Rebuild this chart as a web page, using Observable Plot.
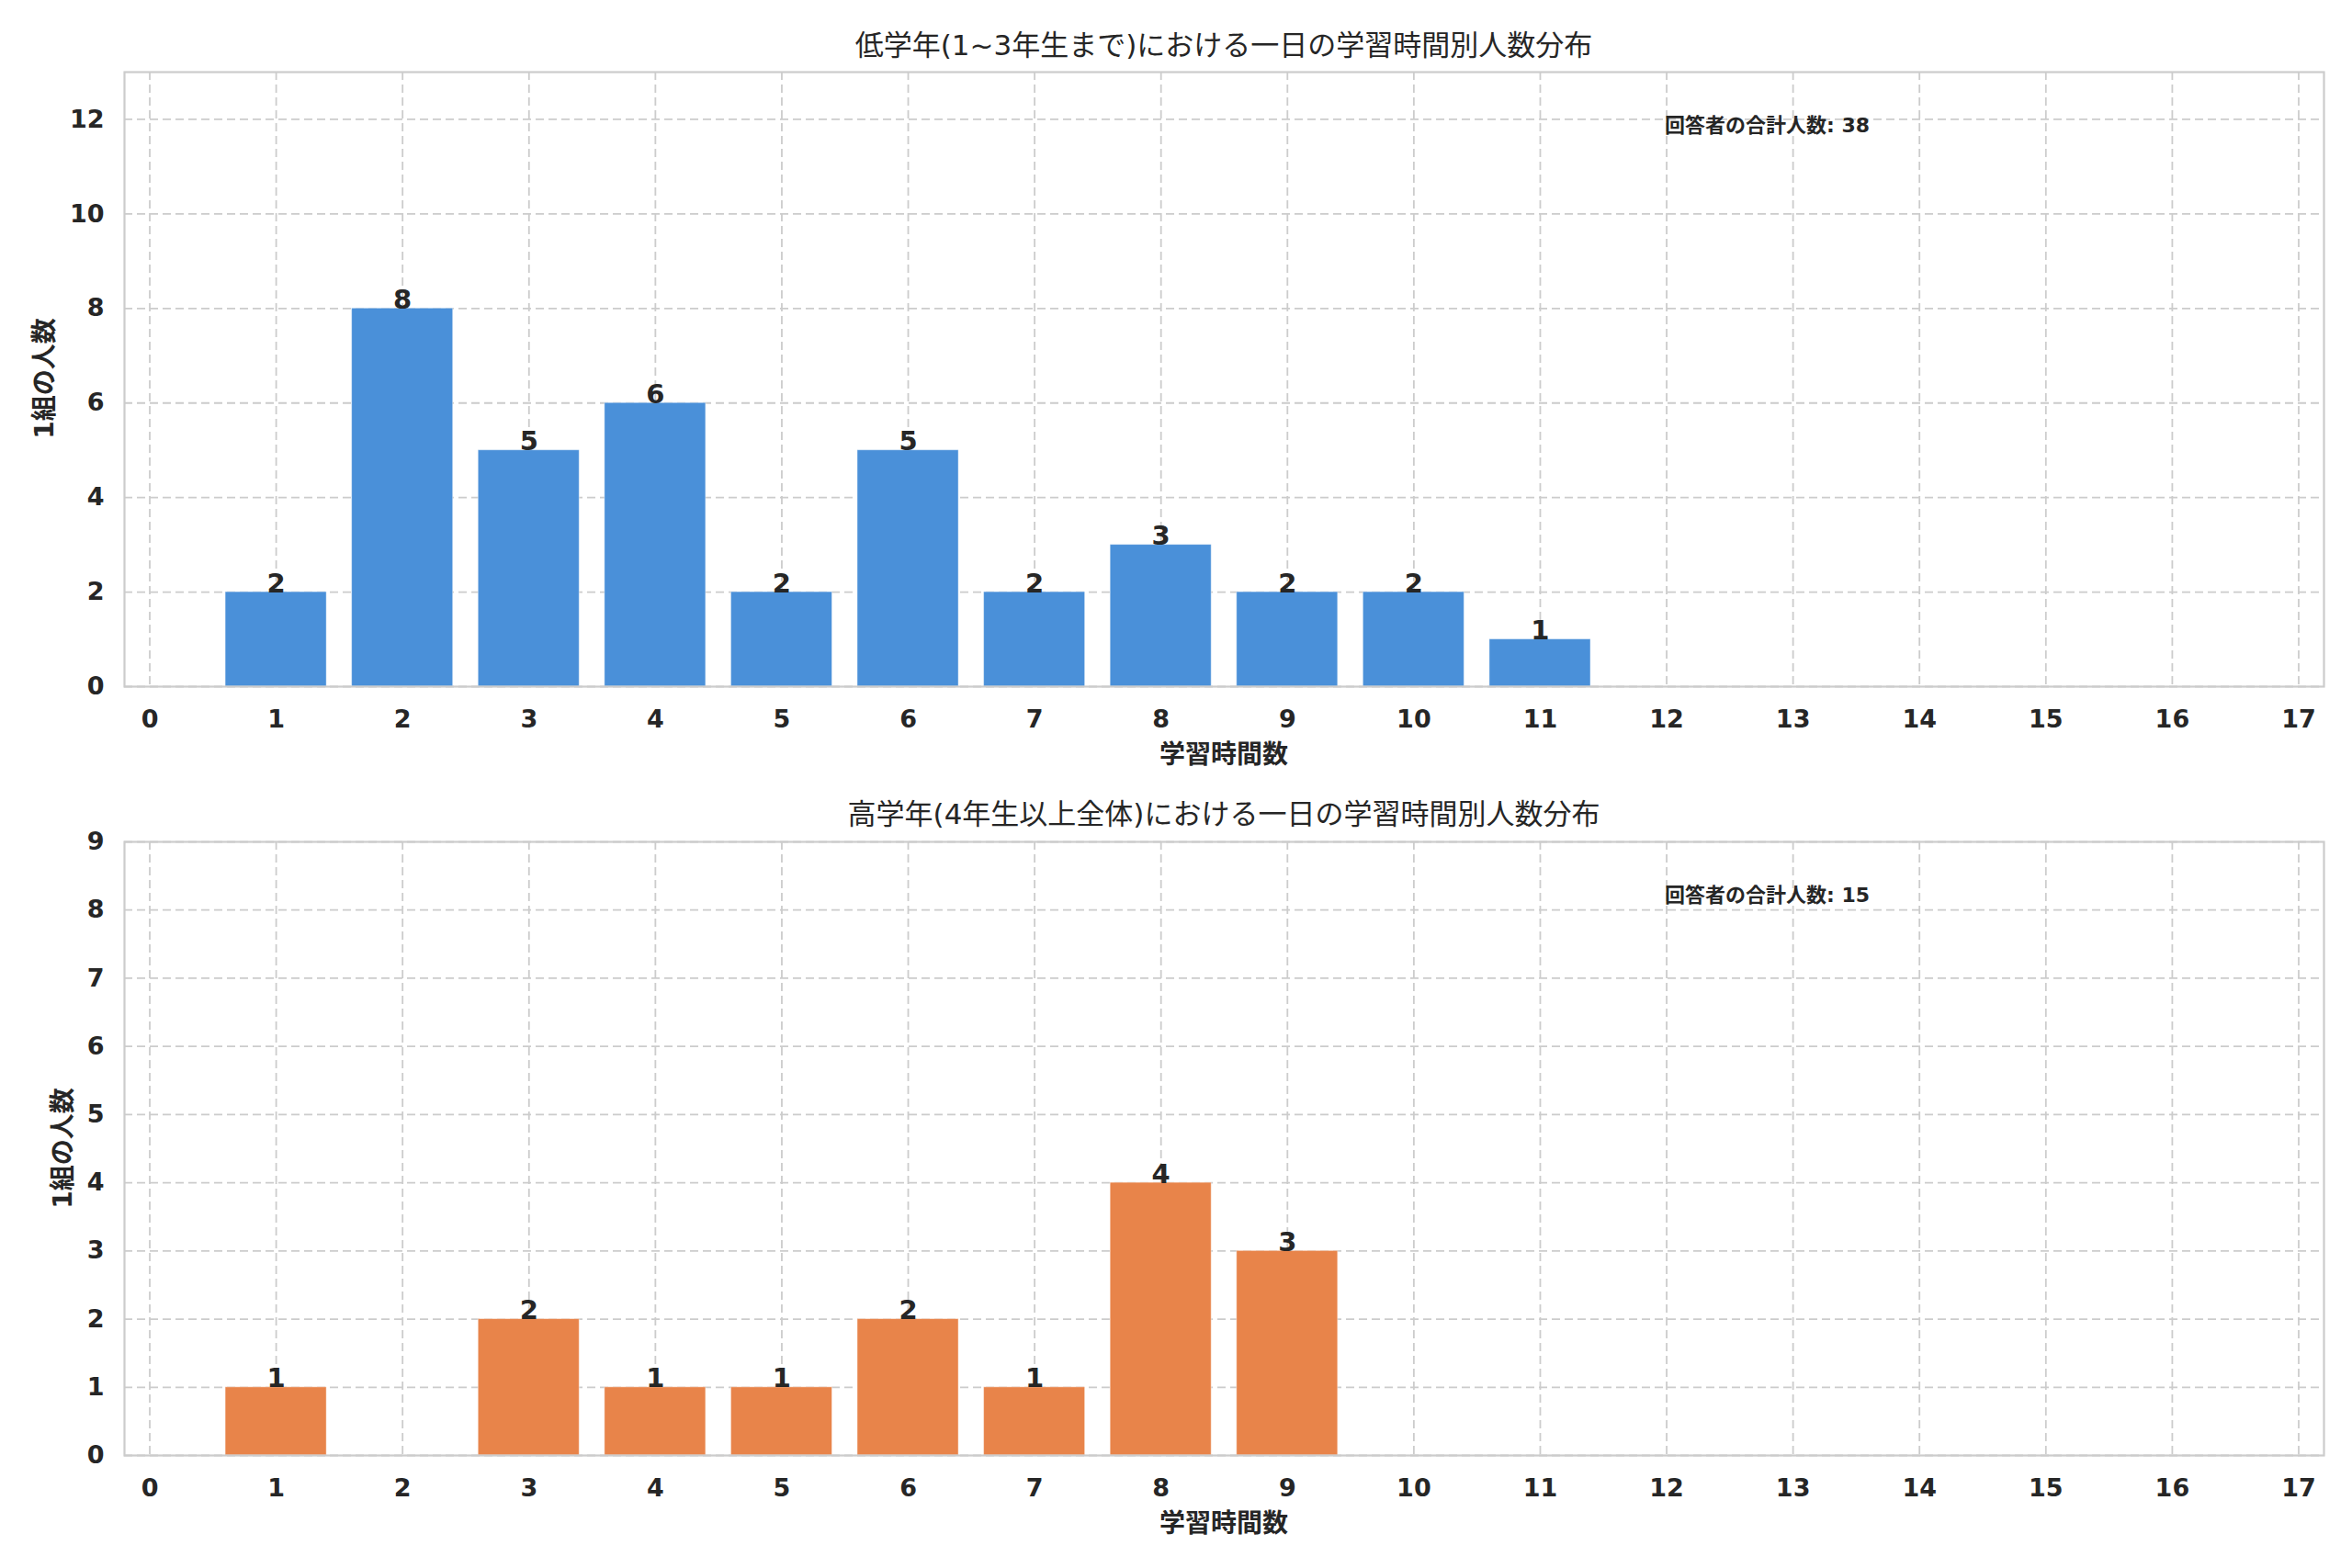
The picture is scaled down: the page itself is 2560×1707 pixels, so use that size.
<!DOCTYPE html>
<html>
<head>
<meta charset="utf-8">
<script src="https://cdn.jsdelivr.net/npm/d3@7"></script>
<script src="https://cdn.jsdelivr.net/npm/@observablehq/plot@0.6"></script>
<style>
  html, body { margin: 0; padding: 0; background: #ffffff; }
  #chart { position: relative; width: 2560px; height: 1707px; background: #ffffff;
           font-family: "DejaVu Sans", "Noto Sans CJK JP", sans-serif; color: #262626; }
  .panel { position: absolute; left: 0; width: 2560px; }
  .title { position: absolute; left: 135px; width: 2394px; text-align: center;
           font-size: 31px; line-height: 40px; white-space: nowrap; }
  .xlabel { position: absolute; left: 135px; width: 2394px; text-align: center;
            font-size: 28px; font-weight: bold; line-height: 40px; white-space: nowrap; }
  .ylabel { position: absolute; transform: translate(-50%, -50%) rotate(-90deg);
            font-size: 28px; font-weight: bold; white-space: nowrap; line-height: 34px; }
  .note { position: absolute; font-size: 22px; font-weight: bold; line-height: 30px; white-space: nowrap; }
</style>
</head>
<body>
<div id="chart">
  <div class="panel" id="p1" style="top:0px;"></div>
  <div class="panel" id="p2" style="top:835px;"></div>
  <div class="title" id="t1" style="top:29px;"></div>
  <div class="title" id="t2" style="top:866px;"></div>
  <div class="xlabel" id="xl1" style="top:802px;"></div>
  <div class="xlabel" id="xl2" style="top:1639px;"></div>
  <div class="ylabel" id="yl1" style="left:49px; top:412px;"></div>
  <div class="ylabel" id="yl2" style="left:69px; top:1250px;"></div>
  <div class="note" id="n1" style="left:1812px; top:122px;"></div>
  <div class="note" id="n2" style="left:1812px; top:960px;"></div>
</div>
<script>
// ---- data ----
const titleTop = "低学年(1~3年生まで)における一日の学習時間別人数分布";
const titleBottom = "高学年(4年生以上全体)における一日の学習時間別人数分布";
const xLabel = "学習時間数";
const yLabel = "1組の人数";
const noteLabel = "回答者の合計人数";

const hoursTop = [1, 2, 3, 4, 5, 6, 7, 8, 9, 10, 11];
const countsTop = [2, 8, 5, 6, 2, 5, 2, 3, 2, 2, 1];

const hoursBottom = [1, 2, 3, 4, 5, 6, 7, 8, 9];
const countsBottom = [1, 0, 2, 1, 1, 2, 1, 4, 3];

const xTicks = [0, 1, 2, 3, 4, 5, 6, 7, 8, 9, 10, 11, 12, 13, 14, 15, 16, 17];
const yTicksTop = [0, 2, 4, 6, 8, 10, 12];
const yTicksBottom = [0, 1, 2, 3, 4, 5, 6, 7, 8, 9];

const colorTop = "#4A90D9";
const colorBottom = "#E8844A";

// ---- build ----
function panel(hours, counts, yTicks, yMax, color, height, mTop, mBottom) {
  const data = hours.map((h, i) => ({ x: h, count: counts[i] }));
  const labeled = data.filter(d => d.count > 0);
  return Plot.plot({
    width: 2560,
    height,
    marginTop: mTop,
    marginBottom: mBottom,
    marginLeft: 135,
    marginRight: 31,
    style: { fontFamily: "DejaVu Sans, Noto Sans CJK JP, sans-serif", background: "#ffffff", color: "#262626", overflow: "visible" },
    x: { type: "linear", domain: [-0.2, 17.2] },
    y: { type: "linear", domain: [0, yMax] },
    marks: [
      Plot.gridX({ ticks: xTicks, stroke: "#cccccc", strokeOpacity: 1, strokeWidth: 1.8, strokeDasharray: "9,5" }),
      Plot.gridY({ ticks: yTicks, stroke: "#cccccc", strokeOpacity: 1, strokeWidth: 1.8, strokeDasharray: "9,5" }),
      Plot.rectY(data, {
        x1: d => d.x - 0.4, x2: d => d.x + 0.4, y: "count",
        fill: color, stroke: "#ffffff", strokeOpacity: 0.45, strokeWidth: 1
      }),
      Plot.frame({ stroke: "#cccccc", strokeWidth: 2.2 }),
      Plot.text(labeled, {
        x: "x", y: "count", text: d => String(d.count),
        lineAnchor: "bottom", fontSize: 29, fontWeight: "bold", fill: "#262626"
      }),
      Plot.axisX({ ticks: xTicks, tickSize: 0, tickPadding: 25, fontSize: 27, fontWeight: "bold",
                   color: "#262626", label: null, tickFormat: d => String(d) }),
      Plot.axisY({ ticks: yTicks, tickSize: 0, tickPadding: 22, fontSize: 27, fontWeight: "bold",
                   color: "#262626", label: null, tickFormat: d => String(d) })
    ]
  });
}

const sum = a => a.reduce((s, v) => s + v, 0);

document.getElementById("p1").appendChild(
  panel(hoursTop, countsTop, yTicksTop, 13, colorTop, 835, 78, 88));
document.getElementById("p2").appendChild(
  panel(hoursBottom, countsBottom, yTicksBottom, 9, colorBottom, 872, 81, 123));

document.getElementById("t1").textContent = titleTop;
document.getElementById("t2").textContent = titleBottom;
document.getElementById("xl1").textContent = xLabel;
document.getElementById("xl2").textContent = xLabel;
document.getElementById("yl1").textContent = yLabel;
document.getElementById("yl2").textContent = yLabel;
document.getElementById("n1").textContent = noteLabel + ": " + sum(countsTop);
document.getElementById("n2").textContent = noteLabel + ": " + sum(countsBottom);
</script>
</body>
</html>
